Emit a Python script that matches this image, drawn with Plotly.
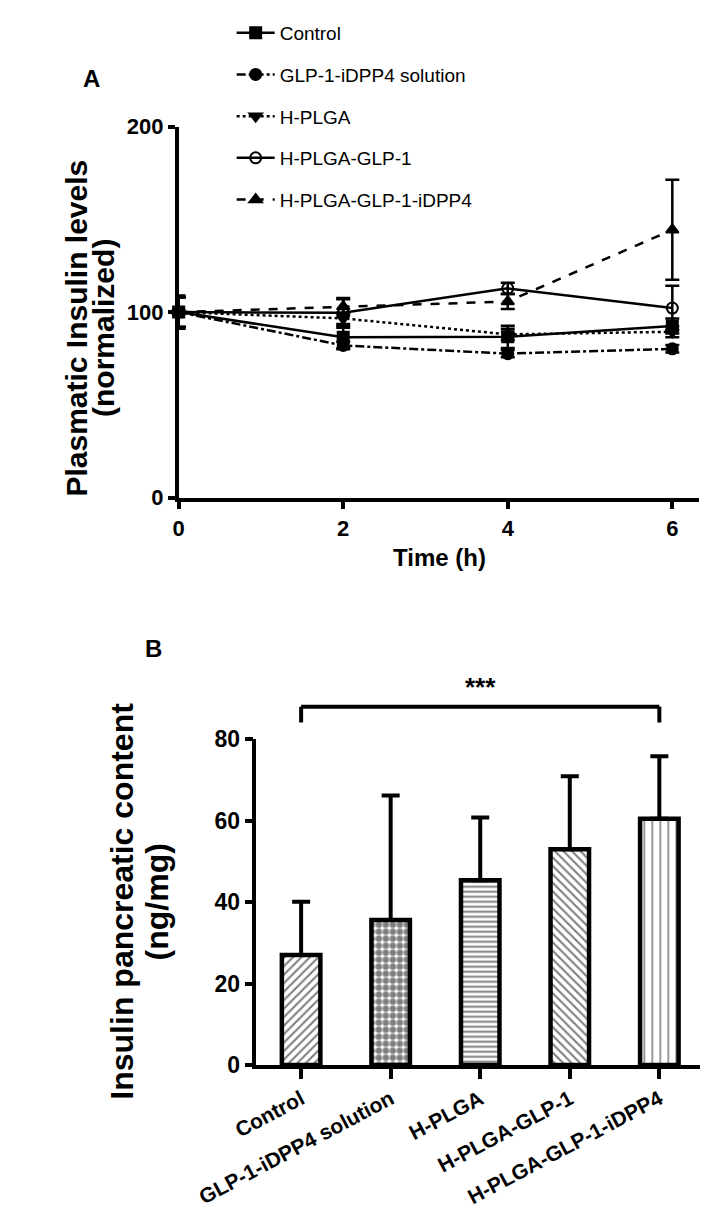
import plotly.graph_objects as go

# Panel A data: plasmatic insulin (normalized) over time
hours = [0, 2, 4, 6]
series_names = ['Control', 'GLP-1-iDPP4 solution', 'H-PLGA',
                'H-PLGA-GLP-1', 'H-PLGA-GLP-1-iDPP4']
control = [100, 86.5, 86.7, 92.5]
control_err = [8, 6, 6, 4]
glp_solution = [100, 82, 77.6, 80.2]
glp_solution_err = [8, 2, 2, 2]
hplga = [100, 96.6, 88, 89.4]
hplga_err = [8, 3, 3, 3]
hplga_glp = [100, 99.6, 112.8, 102.2]
hplga_glp_err = [8, 8, 3, 12]
hplga_glp_idpp4 = [100, 103, 105.7, 144.4]
hplga_glp_idpp4_err = [9, 4, 4, 27]

# Panel B data: insulin pancreatic content (ng/mg)
groups = ['Control', 'GLP-1-iDPP4 solution', 'H-PLGA',
          'H-PLGA-GLP-1', 'H-PLGA-GLP-1-iDPP4']
content = [27.0, 35.6, 45.4, 53.0, 60.5]
content_err = [13.1, 30.6, 15.4, 17.9, 15.3]
sig_level = 88
sig_label = '***'

W, H = 708, 1210


def px_x(p):
    return p / W


def px_y(p):
    return 1 - p / H


styles = [
    ('solid', 'square'),
    ('dashdot', 'circle'),
    ('dot', 'triangle-down'),
    ('solid', 'circle-open'),
    ('dash', 'triangle-up'),
]
ys = [control, glp_solution, hplga, hplga_glp, hplga_glp_idpp4]
errs = [control_err, glp_solution_err, hplga_err, hplga_glp_err,
        hplga_glp_idpp4_err]

fig = go.Figure()
for name, y, e, (dash, sym) in zip(series_names, ys, errs, styles):
    fig.add_trace(go.Scatter(
        x=hours, y=y, name=name, mode='lines+markers',
        legendgroup=name, cliponaxis=False,
        line=dict(color='black', width=2.5, dash=dash),
        marker=dict(symbol=sym, size=11, color='black',
                    line=dict(color='black', width=2)),
        error_y=dict(type='data', array=e, color='black',
                     thickness=2.5, width=7),
        xaxis='x', yaxis='y'))

patterns = [
    dict(shape='/', size=6, solidity=0.35),
    dict(shape='.', size=7, solidity=0.65),
    dict(shape='-', size=5, solidity=0.4),
    dict(shape='\\', size=6, solidity=0.35),
    dict(shape='|', size=8, solidity=0.2),
]
fig.add_trace(go.Bar(
    x=groups, y=content, width=0.43, showlegend=False,
    marker=dict(color='white', line=dict(color='black', width=4.5),
                pattern=dict(shape=[p['shape'] for p in patterns],
                             size=[p['size'] for p in patterns],
                             solidity=[p['solidity'] for p in patterns],
                             fgcolor='black', bgcolor='white')),
    error_y=dict(type='data', array=content_err, symmetric=False,
                 arrayminus=[0] * len(content), color='black',
                 thickness=4, width=9),
    xaxis='x2', yaxis='y2'))

axis_common = dict(showline=True, linewidth=3.5, linecolor='black',
                   ticks='outside', tickwidth=3.5, tickcolor='black',
                   showgrid=False, zeroline=False)
bold = dict(family='Arial', color='black', weight='bold')

# Panel A geometry
ya0, ya1 = px_y(487), px_y(108)
# Panel B geometry
yb0, yb1 = px_y(1067), px_y(734)

fig.update_layout(
    width=W, height=H, autosize=False,
    margin=dict(l=0, r=0, t=0, b=0),
    plot_bgcolor='white', paper_bgcolor='white',
    xaxis=dict(domain=[px_x(120), px_x(689)], range=[0, 6.32],
               tickvals=hours, ticklen=8, anchor='y',
               tickfont=dict(size=22, **bold), **axis_common),
    yaxis=dict(domain=[ya0, ya1], range=[0, 200],
               tickvals=[0, 100, 200], ticklen=7, anchor='x',
               tickfont=dict(size=22, **bold), **axis_common),
    xaxis2=dict(domain=[px_x(205), px_x(695)], range=[-0.5, 4.5],
                ticklen=10, anchor='y2', tickangle=-28,
                tickfont=dict(size=21, **bold), **axis_common),
    yaxis2=dict(domain=[yb0, yb1], range=[0, 80],
                tickvals=[0, 20, 40, 60, 80], ticklen=8, anchor='x2',
                tickfont=dict(size=23, **bold), **axis_common),
    legend=dict(x=px_x(178), y=1.006, xanchor='left', yanchor='top',
                font=dict(family='Arial', size=19, color='black'),
                itemwidth=38, tracegroupgap=14,
                bgcolor='rgba(0,0,0,0)'),
    showlegend=True,
)

# significance bracket over panel B
sig_paper = yb0 + sig_level / 80 * (yb1 - yb0)
tick_paper = yb0 + (sig_level - 3.9) / 80 * (yb1 - yb0)
fig.add_shape(type='line', xref='x2', yref='paper', x0=0, x1=4,
              y0=sig_paper, y1=sig_paper, line=dict(color='black', width=4))
for gx in [0, 4]:
    fig.add_shape(type='line', xref='x2', yref='paper', x0=gx, x1=gx,
                  y0=sig_paper, y1=tick_paper,
                  line=dict(color='black', width=4))


def label(text, x, y, size, angle=0):
    return dict(text=text, xref='paper', yref='paper', x=px_x(x),
                y=px_y(y), xanchor='center', yanchor='middle',
                textangle=angle, showarrow=False,
                font=dict(size=size, **bold))


annotations = [
    dict(text=sig_label, xref='x2', yref='paper', x=2,
         y=sig_paper + 0.002, xanchor='center', yanchor='bottom',
         showarrow=False, font=dict(size=26, **bold)),
    label('A', 25, 59, 24),
    label('B', 93, 641, 24),
    label('Time (h)', 405, 548, 24),
    label('Plasmatic Insulin levels', 8, 314, 30, -90),
    label('(normalized)', 38, 314, 30, -90),
    label('Insulin pancreatic content', 58, 900, 32, -90),
    label('(ng/mg)', 96, 900, 32, -90),
]
fig.update_layout(annotations=annotations)

fig.write_html("out.html")
